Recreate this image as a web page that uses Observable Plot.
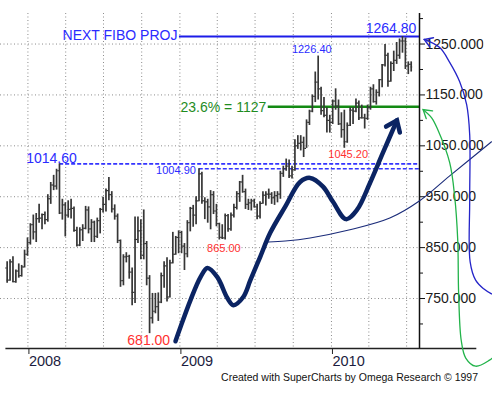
<!DOCTYPE html>
<html><head><meta charset="utf-8">
<script src="https://cdn.jsdelivr.net/npm/d3@7"></script>
<script src="https://cdn.jsdelivr.net/npm/@observablehq/plot@0.6"></script>
<style>
html,body{margin:0;padding:0;background:#fff;}
#chart{width:492px;height:396px;overflow:hidden;}
</style></head><body><div id="chart"></div>
<script>
// Weekly gold bars, first week starting 2007-11-12
const firstWeek = "2007-11-12";
const openPx = [810,786,822,783,804,795,812,837,860,895,881,907,908,915,905,946,973,971,1001,918,934,914,925,927,884,855,885,888,924,887,900,872,903,925,935,962,954,926,912,864,785,832,833,802,762,866,883,835,858,790,712,725,734,743,795,814,753,820,837,870,880,853,838,899,927,914,942,995,942,940,930,954,922,897,870,869,913,887,914,929,956,979,960,935,938,942,930,912,937,953,955,955,948,952,955,996,1005,1010,991,1003,1050,1055,1057,1045,1096,1118,1147,1175,1162,1119,1110,1100,1096,1138,1128,1093,1082,1058,1090,1120,1118,1134,1105,1105,1104,1125,1162,1137,1155,1180,1209,1228,1177,1212,1218,1228,1256,1256,1207,1210];
const highPx = [822,826,832,806,818,815,845,869,897,914,917,935,916,920,954,978,992,1004,1014.6,945,938,942,945,930,890,889,895,931,930,905,902,908,927,949,965,988,960,934,916,865,836,840,835,810,910,910,905,924,862,795,760,760,761,800,822,830,825,880,872,883,882,858,903,929,933,950,1004.9,998,948,945,962,960,935,898,895,916,915,918,935,960,980,992,965,945,945,945,935,940,960,960,965,958,960,960,1000,1010,1024,1022,1010,1062,1070,1070,1067,1101,1120,1150,1195,1226.4,1165,1145,1125,1110,1140,1162,1140,1115,1120,1095,1125,1125,1142,1138,1130,1112,1130,1165,1170,1160,1180,1210,1249,1232,1215,1236,1253,1260,1264.8,1262,1215,1215];
const lowPx = [780,784,781,780,790,792,810,833,855,865,860,898,885,895,900,935,962,963,915,904,871,908,906,880,851,852,862,885,877,860,860,868,877,918,920,942,918,904,858,772,775,820,788,736,740,858,826,826,775,681,700,720,705,740,770,743,751,818,835,838,838,805,830,881,890,895,940,935,905,898,885,915,891,865,866,865,880,882,908,924,939,957,925,923,922,928,905,906,935,932,945,935,933,938,945,988,1000,986,985,1000,1043,1040,1027,1045,1090,1115,1135,1140,1110,1105,1075,1075,1092,1120,1090,1065,1045.2,1055,1088,1092,1115,1100,1103,1083,1100,1120,1134,1130,1146,1164,1205,1165,1175,1196,1210,1220,1232,1200,1190,1195];
const closePx = [786,822,783,804,795,812,837,860,895,881,907,908,915,905,946,973,971,1001,918,934,914,925,927,884,855,885,888,924,887,900,872,903,925,935,962,954,926,912,864,785,832,833,802,762,866,883,830,858,790,712,725,734,743,795,814,753,820,837,870,880,853,838,899,927,914,942,995,942,940,930,954,922,897,870,869,913,887,914,929,956,979,960,935,938,942,930,912,937,953,955,955,948,952,955,996,1005,1010,991,1003,1050,1055,1057,1045,1096,1118,1147,1175,1162,1119,1110,1100,1096,1138,1128,1093,1082,1058,1090,1120,1118,1134,1105,1105,1104,1125,1162,1137,1155,1180,1209,1228,1177,1212,1218,1228,1256,1256,1207,1210,1205];

// Axis ticks
const priceLabelTicks = [750, 850, 950, 1050, 1150, 1250];
const priceMinorTicks = [700, 800, 900, 1000, 1100, 1200, 1300];
const yearTicks = ["2008-01-01", "2009-01-01", "2010-01-01"];
const yearLabels = ["2008", "2009", "2010"];
const quarterTicks = ["2008-01-01","2008-04-01","2008-07-01","2008-10-01","2009-01-01","2009-04-01","2009-07-01","2009-10-01","2010-01-01","2010-04-01","2010-07-01"];

// Level lines: value, start (decimal year)
const fiboLevel = 1264.8, fiboStart = 2008.997;
const retraceLevel = 1127, retraceStart = 2009.583;
const high2008 = 1014.6, high2008Start = 2008.209;
const high2009 = 1004.9, high2009Start = 2009.128;

// Labelled highs / lows [decimal year, price]
const peak2010 = [2010.56, 1264.8];
const peak2009 = [2009.870, 1226.4];
const low2010 = [2010.110, 1045.2];
const low2009 = [2009.290, 865.0];
const low2008 = [2008.795, 681.0];
const top2008 = [2008.155, 1014.6];
const top2009 = [2009.112, 1004.9];

// Hand-drawn annotation curves [decimal year, price]
const bigWave = [[2008.971,666],[2009.004,694],[2009.070,747],[2009.136,792],[2009.182,810],[2009.247,792],[2009.313,751],[2009.353,737],[2009.418,753],[2009.465,786],[2009.530,832],[2009.596,879],[2009.694,930],[2009.793,979],[2009.859,987],[2009.944,970],[2010.010,940],[2010.096,906],[2010.168,924],[2010.254,977],[2010.339,1036],[2010.432,1100]];
const thinTrend = [[2009.584,861],[2009.695,863],[2009.859,869],[2010.122,885],[2010.385,908],[2010.582,942],[2010.780,991],[2011.056,1058]];
const blueArc = [[2011.056,759],[2011.004,769],[2010.951,786],[2010.915,822],[2010.912,944],[2010.912,1072],[2010.892,1131],[2010.846,1176],[2010.780,1214],[2010.714,1243],[2010.612,1259]];
const greenArc = [[2011.075,637],[2011.043,629],[2010.951,617],[2010.886,633],[2010.856,668],[2010.839,761],[2010.833,865],[2010.813,950],[2010.780,1017],[2010.701,1082],[2010.661,1105],[2010.605,1121]];

const captionText = "Created with SuperCharts by Omega Research © 1997";

const DAY = 864e5;
const utc = s => new Date(s + "T00:00:00Z");
function yd(t) { const y = Math.floor(t); const a = Date.UTC(y,0,1), b = Date.UTC(y+1,0,1); return new Date(a + (t - y) * (b - a)); }

const w0 = +utc(firstWeek);
const bars = openPx.map((o, i) => ({date: new Date(w0 + i*7*DAY), open: o, high: highPx[i], low: lowPx[i], close: closePx[i]}));

const xStart = utc("2007-10-27"), xEnd = utc("2010-08-01");
const yMin = 651.8, yMax = 1310;
const F = "'Liberation Sans', Arial, sans-serif";

function chevron(len, half, sw) {
  return (color, context) => {
    const doc = (context && context.document) || document;
    const ns = "http://www.w3.org/2000/svg";
    const m = doc.createElementNS(ns, "marker");
    m.setAttribute("viewBox", `${-len-sw} ${-half-sw} ${len+2*sw} ${2*half+2*sw}`);
    m.setAttribute("refX", 0); m.setAttribute("refY", 0);
    m.setAttribute("markerUnits", "userSpaceOnUse");
    m.setAttribute("markerWidth", len+2*sw); m.setAttribute("markerHeight", 2*half+2*sw);
    m.setAttribute("orient", "auto");
    m.setAttribute("overflow", "visible");
    const p = doc.createElementNS(ns, "path");
    p.setAttribute("d", `M${-len},${-half}L0,0L${-len},${half}`);
    p.setAttribute("fill", "none"); p.setAttribute("stroke", color);
    p.setAttribute("stroke-width", sw); p.setAttribute("stroke-linejoin", "miter"); p.setAttribute("stroke-linecap", "round");
    m.appendChild(p);
    return m;
  };
}

const blueTxt = "#2b2bff", redTxt = "#ff3030", gridC = "#8c8c8c";
const barC = "#363636";

const plot = Plot.plot({
  width: 492, height: 396,
  marginLeft: 0, marginRight: 73, marginTop: 13, marginBottom: 48,
  style: {background: "#fff", fontFamily: F, overflow: "visible"},
  x: {type: "utc", domain: [xStart, xEnd]},
  y: {domain: [yMin, yMax]},
  marks: [
    Plot.gridY(priceLabelTicks, {stroke: gridC, strokeOpacity: 1, strokeDasharray: "1,2.5"}),
    Plot.gridX(quarterTicks.map(utc), {stroke: gridC, strokeOpacity: 1, strokeDasharray: "1,2.5"}),
    // level lines
    Plot.ruleY([fiboLevel], {x1: () => yd(fiboStart), x2: () => xEnd, stroke: "#1c1ce8", strokeWidth: 2}),
    Plot.ruleY([retraceLevel], {x1: () => yd(retraceStart), x2: () => xEnd, stroke: "#138a13", strokeWidth: 2.5}),
    Plot.ruleY([high2008], {x1: () => yd(high2008Start), x2: () => xEnd, stroke: "#3535ff", strokeWidth: 1.6, strokeDasharray: "4,2"}),
    Plot.ruleY([high2009], {x1: () => yd(high2009Start), x2: () => xEnd, stroke: "#3535ff", strokeWidth: 1.6, strokeDasharray: "4,2"}),
    // OHLC bars
    Plot.ruleX(bars, {x: "date", y1: "low", y2: "high", stroke: barC, strokeWidth: 1.7}),
    Plot.ruleY(bars, {y: "open", x1: d => new Date(+d.date - 3.5*DAY), x2: "date", stroke: barC, strokeWidth: 1.2}),
    Plot.ruleY(bars, {y: "close", x1: "date", x2: d => new Date(+d.date + 3.5*DAY), stroke: barC, strokeWidth: 1.2}),
    // axes
    Plot.ruleX([xEnd], {stroke: "#111", strokeWidth: 1.5}),
    Plot.ruleY([yMin], {x1: () => utc("2007-11-09"), x2: () => utc("2010-12-17"), stroke: "#222", strokeWidth: 1.5}),
    Plot.axisY(priceMinorTicks, {anchor: "right", tickSize: 3, tickFormat: () => "", label: null, stroke: "#111"}),
    Plot.axisY(priceLabelTicks, {anchor: "right", tickSize: 5, tickPadding: 1, tickFormat: d => d.toFixed(3), label: null, fontSize: 14, fill: "#1a1a1a", stroke: "#111"}),
    Plot.axisX(yearTicks.map(utc), {tickSize: 6, tickPadding: 1, tickFormat: (d) => yearLabels[yearTicks.indexOf(d.toISOString().slice(0,10))], textAnchor: "start", dx: 1, label: null, fontSize: 14.5, fill: "#1c1c40", stroke: "#222"}),
    // labels
    Plot.text(["NEXT FIBO PROJ"], {x: () => yd(fiboStart), y: () => fiboLevel, textAnchor: "end", lineAnchor: "middle", dx: -2, dy: -1, fontSize: 14, fill: blueTxt}),
    Plot.text(["1264.80"], {x: () => yd(peak2010[0]), y: () => peak2010[1], textAnchor: "end", lineAnchor: "bottom", dx: 0, dy: -4, fontSize: 14, fill: blueTxt}),
    Plot.text(["23.6% = 1127"], {x: () => yd(retraceStart), y: () => retraceLevel, textAnchor: "end", lineAnchor: "middle", dx: -2, dy: 1, fontSize: 14, fill: "#1f8c1f"}),
    Plot.text(["1014.60"], {x: () => yd(top2008[0]), y: () => top2008[1], textAnchor: "middle", lineAnchor: "bottom", dy: -1, fontSize: 14, fill: blueTxt}),
    Plot.text(["1004.90"], {x: () => yd(top2009[0]), y: () => top2009[1], textAnchor: "end", lineAnchor: "middle", dx: -1, dy: 2, fontSize: 11, fill: blueTxt}),
    Plot.text(["1226.40"], {x: () => yd(peak2009[0]), y: () => peak2009[1], textAnchor: "middle", lineAnchor: "bottom", dy: -3, fontSize: 11, fill: blueTxt}),
    Plot.text(["1045.20"], {x: () => yd(low2010[0]), y: () => low2010[1], textAnchor: "middle", lineAnchor: "top", dy: 2, fontSize: 11, fill: redTxt}),
    Plot.text(["865.00"], {x: () => yd(low2009[0]), y: () => low2009[1], textAnchor: "middle", lineAnchor: "top", dy: 4, fontSize: 11, fill: redTxt}),
    Plot.text(["681.00"], {x: () => yd(low2008[0]), y: () => low2008[1], textAnchor: "middle", lineAnchor: "top", dy: 1, fontSize: 14, fill: redTxt}),
    // hand-drawn curves
    Plot.line(thinTrend, {x: d => yd(d[0]), y: d => d[1], curve: "catmull-rom", stroke: "#1b2c7a", strokeWidth: 1.1}),
    Plot.line(blueArc, {x: d => yd(d[0]), y: d => d[1], curve: "catmull-rom", stroke: "#2424c8", strokeWidth: 1.3, markerEnd: chevron(8, 5, 1.4)}),
    Plot.line(greenArc, {x: d => yd(d[0]), y: d => d[1], curve: "catmull-rom", stroke: "#22b34a", strokeWidth: 1.3, markerEnd: chevron(8, 5, 1.4)}),
    Plot.line(bigWave, {x: d => yd(d[0]), y: d => d[1], curve: "catmull-rom", stroke: "#0b2463", strokeWidth: 4.5, markerEnd: chevron(10, 7.5, 4.5)})
  ]
});

const svg = d3.select(plot);
const defs = svg.insert("defs", ":first-child");
defs.append("clipPath").attr("id", "rclip").append("rect").attr("x", 0).attr("y", 0).attr("width", 477).attr("height", 396);
svg.selectAll('g[aria-label="y-axis tick label"]').attr("clip-path", "url(#rclip)");
svg.append("text").attr("x", 478).attr("y", 381).attr("text-anchor", "end")
  .attr("font-family", F).attr("font-size", 10.5).attr("fill", "#111")
  .text(captionText);

document.getElementById("chart").appendChild(plot);
</script></body></html>
